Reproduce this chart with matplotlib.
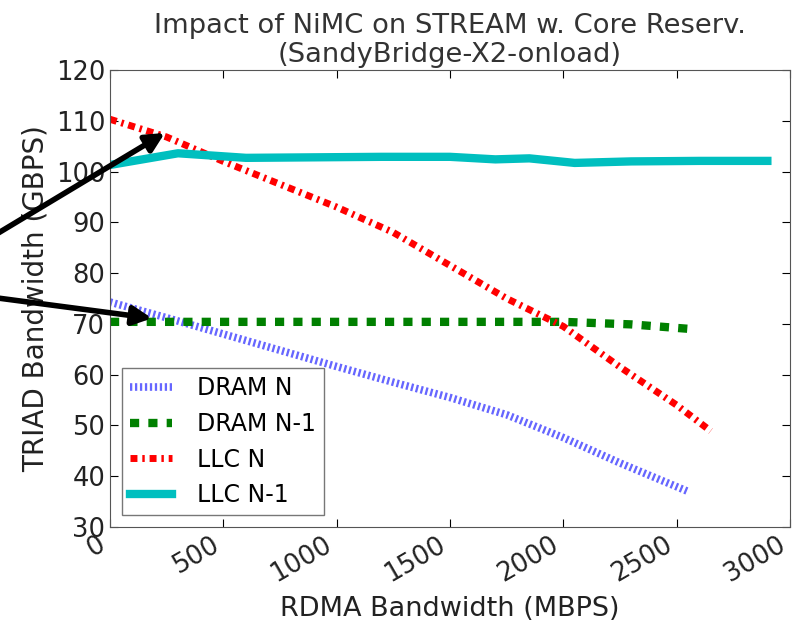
import numpy as np
import matplotlib
matplotlib.use("Agg")
import matplotlib.pyplot as plt

# RDMA bandwidth (MBPS) vs TRIAD bandwidth (GBPS)
dram_n_x = [0, 250, 500, 750, 1000, 1250, 1500, 1750, 2000, 2250, 2550]
dram_n_y = [74.3, 71.2, 68.0, 64.8, 61.6, 58.5, 55.5, 52.1, 47.6, 42.6, 37.0]

dram_n1_x = [0, 300, 600, 900, 1200, 1500, 1800, 2000, 2300, 2560]
dram_n1_y = [70.4, 70.4, 70.4, 70.4, 70.4, 70.4, 70.4, 70.4, 69.9, 69.0]

llc_n_x = [0, 250, 500, 750, 1000, 1250, 1500, 1750, 2000, 2250, 2500, 2650]
llc_n_y = [110.3, 106.8, 102.0, 97.5, 93.0, 88.0, 81.5, 75.0, 69.5, 61.5, 54.0, 48.9]

llc_n1_x = [0, 300, 600, 900, 1200, 1500, 1700, 1850, 2050, 2300, 2600, 2900]
llc_n1_y = [101.3, 103.6, 102.7, 102.8, 102.9, 102.9, 102.4, 102.6, 101.7, 102.0, 102.1, 102.1]

labels = ["DRAM N", "DRAM N-1", "LLC N", "LLC N-1"]

fig = plt.figure(figsize=(7.96, 6.25), dpi=100)
ax = fig.add_axes([0.1382, 0.1568, 0.8543, 0.7312])

ax.plot(dram_n_x, dram_n_y, color="blue", alpha=0.6, lw=5.5, dashes=(0.3, 0.35), label=labels[0])
ax.plot(dram_n1_x, dram_n1_y, color="green", lw=6, dashes=(1.1, 1.1), label=labels[1])
ax.plot(llc_n_x, llc_n_y, color="red", lw=5, dashes=(1.0, 0.7, 0.35, 0.7), label=labels[2])
ax.plot(llc_n1_x, llc_n1_y, color="c", lw=6, label=labels[3])

ax.set_xlim(0, 3000)
ax.set_ylim(30, 120)
ax.set_xticks(np.arange(0, 3001, 500))
ax.set_yticks(np.arange(30, 121, 10))
ax.tick_params(direction="in", length=6, top=True, right=True, labelsize=18.5,
               labelcolor="#222222")
for lbl in ax.get_xticklabels():
    lbl.set_rotation(30)
    lbl.set_ha("right")
for sp in ax.spines.values():
    sp.set_color("#555555")

ax.set_xlabel("RDMA Bandwidth (MBPS)", fontsize=19.5, color="#222222", labelpad=6)
ax.set_ylabel("TRIAD Bandwidth (GBPS)", fontsize=20, color="#222222")
ax.set_title("Impact of NiMC on STREAM w. Core Reserv.\n(SandyBridge-X2-onload)",
             fontsize=19.7, color="#333333", linespacing=1.12, pad=6)

leg = ax.legend(loc="lower left", fontsize=17, handlelength=1.8, handletextpad=1.05,
                labelspacing=0.5, borderpad=0.33, fancybox=False, borderaxespad=0.5)
leg.get_frame().set_edgecolor("#555555")

# arrows coming in from the left margin
arrow = dict(arrowstyle="-|>", lw=4, color="black", mutation_scale=28,
             shrinkA=0, shrinkB=0)
ax.annotate("", xy=(242, 107.6), xytext=(-10, 387), textcoords="figure pixels",
            arrowprops=arrow, annotation_clip=False)
ax.annotate("", xy=(185, 71.1), xytext=(-10, 328), textcoords="figure pixels",
            arrowprops=arrow, annotation_clip=False)

fig.savefig("out.png", dpi=100)
